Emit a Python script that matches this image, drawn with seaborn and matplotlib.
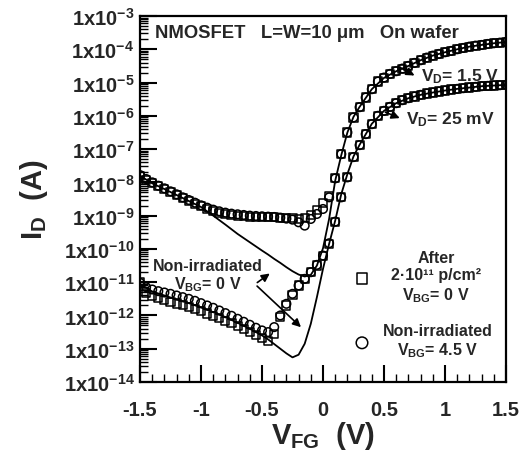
# I_D - V_FG curves, NMOSFET on wafer (seaborn)
import numpy as np
import pandas as pd
import matplotlib
matplotlib.use("Agg")
import matplotlib.pyplot as plt
import seaborn as sns
from matplotlib.ticker import LogLocator, MultipleLocator, NullFormatter

# gate sweep of the measured points (V)
vfg = [-1.50, -1.45, -1.40, -1.35, -1.30, -1.25, -1.20, -1.15, -1.10, -1.05,
       -1.00, -0.95, -0.90, -0.85, -0.80, -0.75, -0.70, -0.65, -0.60, -0.55,
       -0.50, -0.45, -0.40, -0.35, -0.30, -0.25, -0.20, -0.15, -0.10, -0.05,
       0.00, 0.05, 0.10, 0.15, 0.20, 0.25, 0.30, 0.35, 0.40, 0.45,
       0.50, 0.55, 0.60, 0.65, 0.70, 0.75, 0.80, 0.85, 0.90, 0.95,
       1.00, 1.05, 1.10, 1.15, 1.20, 1.25, 1.30, 1.35, 1.40, 1.45, 1.50]

# log10(I_D / A)
# after 2e11 p/cm2, V_BG = 0 V (squares)
log_id_after_15v = [-7.80, -7.93, -8.03, -8.12, -8.20, -8.29, -8.38, -8.47, -8.56, -8.64,
                    -8.72, -8.80, -8.86, -8.91, -8.95, -8.98, -9.00, -9.02, -9.04, -9.05,
                    -9.05, -9.05, -9.05, -9.06, -9.07, -9.08, -9.09, -9.07, -8.97, -8.82,
                    -8.62, -8.40, -7.88, -7.15, -6.50, -6.05, -5.74, -5.45, -5.20, -4.97,
                    -4.85, -4.74, -4.66, -4.58, -4.50, -4.41, -4.33, -4.25, -4.19, -4.14,
                    -4.09, -4.05, -4.00, -3.96, -3.92, -3.89, -3.87, -3.84, -3.82, -3.80, -3.78]
log_id_after_25mv = [-11.00, -11.33, -11.42, -11.48, -11.54, -11.59, -11.64, -11.69, -11.74, -11.80,
                     -11.87, -11.94, -12.01, -12.08, -12.16, -12.24, -12.33, -12.42, -12.50, -12.58,
                     -12.68, -12.76, -12.55, -12.05, -11.70, -11.38, -11.10, -10.90, -10.70, -10.50,
                     -10.22, -9.85, -9.20, -8.45, -7.85, -7.24, -6.88, -6.55, -6.25, -6.00,
                     -5.85, -5.73, -5.62, -5.53, -5.47, -5.42, -5.37, -5.33, -5.30, -5.27,
                     -5.24, -5.21, -5.19, -5.17, -5.15, -5.13, -5.11, -5.10, -5.09, -5.08, -5.07]
# non-irradiated, V_BG = 4.5 V (circles)
log_id_bg45_15v = [-7.78, -7.90, -8.00, -8.10, -8.18, -8.27, -8.36, -8.45, -8.53, -8.61,
                   -8.69, -8.76, -8.82, -8.87, -8.91, -8.94, -8.96, -8.98, -9.00, -9.01,
                   -9.02, -9.03, -9.04, -9.06, -9.09, -9.12, -9.20, -9.30, -9.10, -8.95,
                   -8.80, -8.45, -7.88, -7.15, -6.50, -6.05, -5.74, -5.45, -5.20, -4.97,
                   -4.85, -4.74, -4.66, -4.58, -4.50, -4.41, -4.33, -4.25, -4.19, -4.14,
                   -4.09, -4.05, -4.00, -3.96, -3.92, -3.89, -3.87, -3.84, -3.82, -3.80, -3.78]
log_id_bg45_25mv = [-11.02, -11.15, -11.22, -11.27, -11.31, -11.35, -11.40, -11.45, -11.50, -11.56,
                    -11.63, -11.70, -11.77, -11.85, -11.93, -12.01, -12.10, -12.19, -12.28, -12.37,
                    -12.45, -12.50, -12.35, -12.00, -11.65, -11.35, -11.10, -10.90, -10.70, -10.48,
                    -10.20, -9.83, -9.18, -8.45, -7.85, -7.24, -6.88, -6.55, -6.25, -6.00,
                    -5.85, -5.73, -5.62, -5.53, -5.47, -5.42, -5.37, -5.33, -5.30, -5.27,
                    -5.24, -5.21, -5.19, -5.17, -5.15, -5.13, -5.11, -5.10, -5.09, -5.08, -5.07]

# non-irradiated, V_BG = 0 V (solid lines)
vfg_line = [-1.5, -1.4, -1.3, -1.2, -1.1, -1.0, -0.9, -0.8, -0.7, -0.6, -0.5,
            -0.45, -0.4, -0.35, -0.3, -0.25, -0.2, -0.15, -0.1, -0.05, 0.0,
            0.05, 0.1, 0.15, 0.2, 0.25, 0.3,
            0.4, 0.5, 0.6, 0.7, 0.8, 0.9, 1.0, 1.1, 1.2, 1.3, 1.4, 1.5]
log_id_bg0_15v = [-7.80, -8.03, -8.20, -8.38, -8.56, -8.74, -9.00, -9.27, -9.55, -9.80, -10.05,
                  -10.17, -10.30, -10.42, -10.55, -10.67, -10.77, -10.83, -10.78, -10.50, -9.98,
                  -9.10, -7.95, -7.18, -6.50, -6.03, -5.73,
                  -5.20, -4.86, -4.66, -4.50, -4.33, -4.19, -4.09, -4.00, -3.92, -3.87, -3.82, -3.78]
log_id_bg0_25mv = [-11.05, -11.28, -11.40, -11.52, -11.63, -11.76, -11.90, -12.05, -12.22, -12.40, -12.60,
                   -12.72, -12.86, -13.00, -13.14, -13.26, -13.18, -12.85, -12.25, -11.45, -10.60,
                   -9.85, -9.15, -8.35, -7.75, -7.22, -6.87,
                   -6.24, -5.85, -5.62, -5.47, -5.37, -5.30, -5.24, -5.19, -5.15, -5.11, -5.09, -5.07]

xtick_vals = [-1.5, -1, -0.5, 0, 0.5, 1, 1.5]
xtick_labels = ["-1.5", "-1", "-0.5", "0", "0.5", "1", "1.5"]
ytick_exps = [-14, -13, -12, -11, -10, -9, -8, -7, -6, -5, -4, -3]

n = len(vfg)
pts = pd.DataFrame({
    "vfg": vfg * 4,
    "id": np.power(10.0, log_id_after_15v + log_id_after_25mv + log_id_bg45_15v + log_id_bg45_25mv),
    "vd": (["1.5 V"] * n + ["25 mV"] * n) * 2,
    "sample": ["after"] * (2 * n) + ["bg45"] * (2 * n),
})
m = len(vfg_line)
lines = pd.DataFrame({
    "vfg": vfg_line * 2,
    "id": np.power(10.0, log_id_bg0_15v + log_id_bg0_25mv),
    "vd": ["1.5 V"] * m + ["25 mV"] * m,
})

sns.set_theme(style="ticks")
plt.rcParams["font.family"] = ["Liberation Sans", "DejaVu Sans"]
plt.rcParams["font.weight"] = "bold"
plt.rcParams["axes.labelweight"] = "bold"
plt.rcParams["mathtext.fontset"] = "custom"
for k in ["rm", "it", "bf", "sf"]:
    plt.rcParams["mathtext." + k] = "Liberation Sans:bold"
plt.rcParams["axes.unicode_minus"] = False

fig = plt.figure(figsize=(5.31, 4.52), dpi=100)
ax = fig.add_axes([140 / 531, 1 - 383 / 452, 366 / 531, 366 / 452])
ax.set_yscale("log")

sns.lineplot(data=lines, x="vfg", y="id", units="vd", estimator=None,
             color="black", linewidth=1.3, ax=ax, zorder=2)
sns.scatterplot(data=pts[pts["sample"] == "after"], x="vfg", y="id", marker="s", s=34,
                facecolor="none", edgecolor="black", linewidth=1.1, ax=ax, zorder=3)
sq_handle = ax.collections[-1]
sns.scatterplot(data=pts[pts["sample"] == "bg45"], x="vfg", y="id", marker="o", s=38,
                facecolor="none", edgecolor="black", linewidth=1.1, ax=ax, zorder=3)
ci_handle = ax.collections[-1]

ax.set_xlim(-1.5, 1.5)
ax.set_ylim(1e-14, 1e-3)
ax.set_xticks(xtick_vals, labels=xtick_labels)
ax.xaxis.set_minor_locator(MultipleLocator(0.1))
ax.set_yticks([10.0 ** e for e in ytick_exps],
              labels=[r"$1x10^{%d}$" % e for e in ytick_exps])
ax.yaxis.set_minor_locator(LogLocator(base=10, subs=np.arange(2, 10), numticks=20))
ax.yaxis.set_minor_formatter(NullFormatter())
ax.set_ylim(1e-14, 1e-3)
ax.tick_params(which="major", direction="in", length=12, width=1.5, labelsize=14.5,
               top=False, right=False, color="black")
ax.tick_params(which="minor", direction="in", length=6, width=1.0, top=False, right=False, color="black")
ax.tick_params(axis="x", which="major", pad=13)
ax.tick_params(axis="y", which="major", pad=4)
for s in ax.spines.values():
    s.set_linewidth(1.6)
    s.set_color("black")

ax.set_xlabel(r"$V_{FG}$  (V)", fontsize=21, fontweight="bold", labelpad=0)
ax.set_ylabel(r"$I_D$  (A)", fontsize=21, fontweight="bold", labelpad=10)

ax.text(0.041, 0.956, "NMOSFET   L=W=10 μm   On wafer", transform=ax.transAxes,
        fontsize=13.3, va="center", ha="left")

ax.text(0.80, 10 ** -4.8, r"$V_D$= 1.5 V", fontsize=12.5, va="center", ha="left")
ax.annotate("", xy=(0.77, 10 ** -4.83), xytext=(0.61, 10 ** -4.50),
            arrowprops=dict(arrowstyle="-|>", color="black", lw=1.2, mutation_scale=12))
ax.text(0.68, 10 ** -6.1, r"$V_D$= 25 mV", fontsize=12.5, va="center", ha="left")
ax.annotate("", xy=(0.65, 10 ** -6.1), xytext=(0.49, 10 ** -5.86),
            arrowprops=dict(arrowstyle="-|>", color="black", lw=1.2, mutation_scale=12))

ax.text(-0.943, 10 ** -10.81, "Non-irradiated\n" + r"$V_{BG}$= 0 V", fontsize=11.5,
        ha="center", va="center", multialignment="center", linespacing=1.1)
for head in [(-0.418, 10 ** -10.69), (-0.164, 10 ** -12.41)]:
    ax.annotate("", xy=head, xytext=(-0.557, 10 ** -11.06),
                arrowprops=dict(arrowstyle="-|>", color="black", lw=1.2, mutation_scale=12))

leg1 = ax.legend(handles=[sq_handle],
                 labels=["After\n2·10¹¹ p/cm²\n" + r"$V_{BG}$= 0 V"],
                 loc="center left", bbox_to_anchor=((354 - 140) / 366, 1 - (278 - 17) / 366),
                 frameon=False, fontsize=11.5, borderpad=0, borderaxespad=0,
                 handlelength=1, handletextpad=1.3, markerscale=1.35)
for t in leg1.get_texts():
    t.set_multialignment("center")
ax.add_artist(leg1)
leg2 = ax.legend(handles=[ci_handle],
                 labels=["Non-irradiated\n" + r"$V_{BG}$= 4.5 V"],
                 loc="center left", bbox_to_anchor=((354 - 140) / 366, 1 - (342 - 17) / 366),
                 frameon=False, fontsize=11.5, borderpad=0, borderaxespad=0,
                 handlelength=1, handletextpad=0.8, markerscale=1.35)
for t in leg2.get_texts():
    t.set_multialignment("center")

fig.savefig("out.png", dpi=100)
